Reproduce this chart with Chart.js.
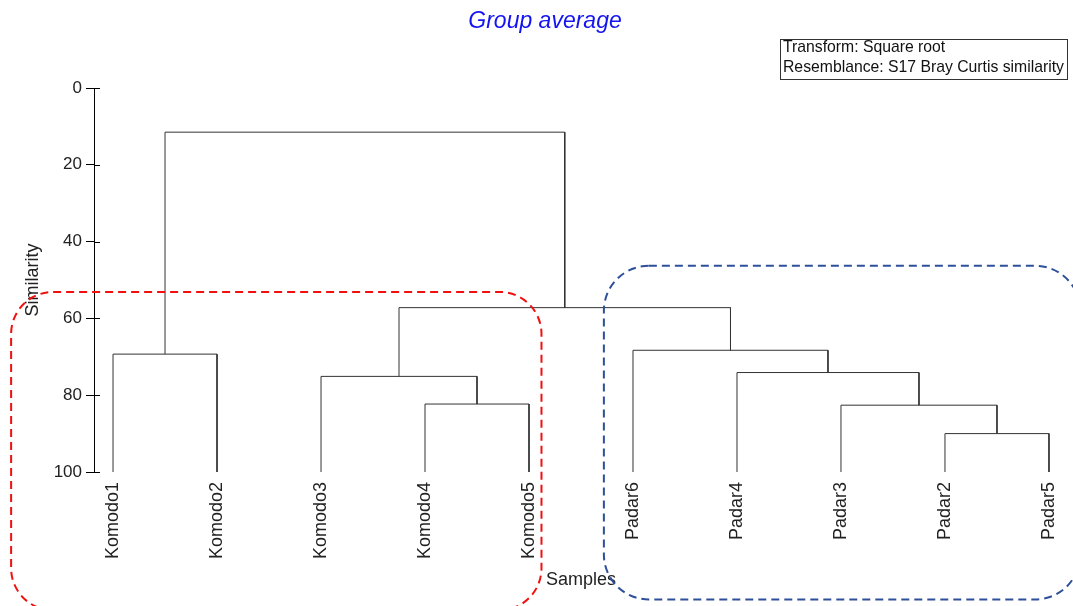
<!DOCTYPE html>
<html>
<head>
    <title>Group average dendrogram</title>
    <script src="https://cdn.jsdelivr.net/npm/chart.js@4/dist/chart.umd.min.js"></script>
    <style>
        body {
            margin: 0;
            background: #fff;
        }

        .chart {
            position: relative;
            width: 1073px;
            height: 606px;
        }
    </style>
</head>
<body>
<div class="chart">
    <canvas id="dendro"></canvas>
</div>

<script>
    // leaves in plotted order
    const leaves = ['Komodo1', 'Komodo2', 'Komodo3', 'Komodo4', 'Komodo5',
        'Padar6', 'Padar4', 'Padar3', 'Padar2', 'Padar5'];

    // merges: node ids 0..9 are leaves, merge k becomes node 10 + k
    const mergeLeft = [3, 8, 2, 7, 0, 6, 5, 12, 14];
    const mergeRight = [4, 9, 10, 11, 1, 13, 15, 16, 17];
    const mergeSimilarity = [82.3, 90.0, 75.1, 82.6, 69.3, 74.1, 68.3, 57.2, 11.5];

    const yTicks = [0, 20, 40, 60, 80, 100];

    // dashed group outlines in axis units (x = leaf index, y = similarity)
    const komodoGroup = {x0: -0.98, x1: 4.12, y0: 53.1, y1: 136};
    const padarGroup = {x0: 4.72, x1: 9.3, y0: 46.3, y1: 133.2};

    const chartTitle = 'Group average';
    const infoLines = ['Transform: Square root', 'Resemblance: S17 Bray Curtis similarity'];

    const FONT = "'Liberation Sans', Arial, sans-serif";

    // node positions
    const nodeX = leaves.map((_, i) => i);
    const nodeY = leaves.map(() => 100);
    const datasets = [];
    mergeLeft.forEach((a, k) => {
        const b = mergeRight[k];
        const h = mergeSimilarity[k];
        datasets.push({
            data: [
                {x: nodeX[a], y: nodeY[a]},
                {x: nodeX[a], y: h},
                {x: nodeX[b], y: h},
                {x: nodeX[b], y: nodeY[b]}
            ],
            showLine: true,
            borderColor: '#333',
            borderWidth: 1,
            pointRadius: 0,
            fill: false,
            tension: 0
        });
        nodeX.push((nodeX[a] + nodeX[b]) / 2);
        nodeY.push(h);
    });

    function roundBox(ctx, chart, g, color, radius) {
        const xs = chart.scales.x, ys = chart.scales.y;
        const x0 = xs.getPixelForValue(g.x0), x1 = xs.getPixelForValue(g.x1);
        const y0 = ys.getPixelForValue(g.y0), y1 = ys.getPixelForValue(g.y1);
        ctx.save();
        ctx.strokeStyle = color;
        ctx.lineWidth = 2;
        ctx.setLineDash([8, 5]);
        ctx.beginPath();
        ctx.roundRect(x0, y0, x1 - x0, y1 - y0, radius);
        ctx.stroke();
        ctx.restore();
    }

    const extras = {
        id: 'extras',
        afterDraw(chart) {
            const ctx = chart.ctx;
            roundBox(ctx, chart, komodoGroup, '#f01010', 42);
            roundBox(ctx, chart, padarGroup, '#2e4f9a', 45);

            ctx.save();
            // title
            ctx.fillStyle = '#1414f0';
            ctx.font = 'italic 23px ' + FONT;
            ctx.textAlign = 'center';
            ctx.textBaseline = 'middle';
            ctx.fillText(chartTitle, 545, 22);

            // info box
            ctx.strokeStyle = '#333';
            ctx.lineWidth = 1;
            ctx.strokeRect(780.5, 39.5, 287, 40);
            ctx.fillStyle = '#111';
            ctx.font = '15.75px ' + FONT;
            ctx.textAlign = 'left';
            infoLines.forEach((t, i) => ctx.fillText(t, 783, 48 + i * 20));

            // short inner tick stubs on the similarity axis
            const ys = chart.scales.y, ax = chart.chartArea.left;
            ctx.strokeStyle = '#000';
            ctx.beginPath();
            yTicks.forEach(v => {
                const p = Math.round(ys.getPixelForValue(v)) + 0.5;
                ctx.moveTo(ax, p);
                ctx.lineTo(ax + 6, p);
            });
            ctx.stroke();
            ctx.restore();
        }
    };

    const chart = new Chart(document.getElementById('dendro'), {
        type: 'scatter',
        data: {datasets: datasets},
        plugins: [extras],
        options: {
            responsive: true,
            maintainAspectRatio: false,
            animation: false,
            layout: {padding: {left: 0, right: 5, top: 88, bottom: 0}},
            plugins: {
                legend: {display: false},
                tooltip: {enabled: false},
                title: {display: false}
            },
            scales: {
                x: {
                    type: 'linear',
                    min: -0.183,
                    max: 9.183,
                    afterBuildTicks: (scale) => {
                        scale.ticks = leaves.map((_, i) => ({value: i}));
                    },
                    afterFit: (scale) => {
                        scale.height = 134;
                        scale.paddingLeft = 0;
                        scale.paddingRight = 0;
                    },
                    border: {display: false},
                    grid: {display: false, drawTicks: false},
                    ticks: {
                        autoSkip: false,
                        minRotation: 90,
                        maxRotation: 90,
                        padding: 10,
                        color: '#222',
                        font: {family: FONT, size: 18},
                        callback: (v) => leaves[v]
                    },
                    title: {
                        display: true,
                        text: 'Samples',
                        color: '#222',
                        font: {family: FONT, size: 18},
                        padding: {top: 9, bottom: 15}
                    }
                },
                y: {
                    reverse: true,
                    min: 0,
                    max: 100,
                    afterBuildTicks: (scale) => {
                        scale.ticks = yTicks.map(v => ({value: v}));
                    },
                    afterFit: (scale) => {
                        scale.width = 94;
                        scale.paddingTop = 0;
                        scale.paddingBottom = 0;
                    },
                    border: {display: true, color: '#000', width: 1},
                    grid: {drawOnChartArea: false, drawTicks: true, tickLength: 8, color: '#000'},
                    ticks: {
                        padding: 4,
                        color: '#222',
                        font: {family: FONT, size: 17}
                    },
                    title: {
                        display: true,
                        text: 'Similarity',
                        color: '#222',
                        font: {family: FONT, size: 18},
                        padding: {top: 22, bottom: 0}
                    }
                }
            }
        }
    });
</script>
</body>
</html>
